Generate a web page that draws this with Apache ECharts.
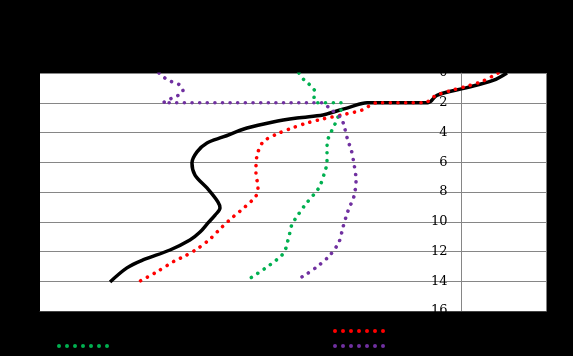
<!DOCTYPE html>
<html>
<head>
<meta charset="utf-8">
<script src="https://cdn.jsdelivr.net/npm/echarts@6/dist/echarts.min.js"></script>
<style>html,body{margin:0;padding:0;background:#000;}#c{width:573px;height:356px;}</style>
</head>
<body>
<div id="c"></div>
<script>
// y-axis tick labels (depth)
const depthTicks = [0, 2, 4, 6, 8, 10, 12, 14, 16];
const seriesNames = ['Series 1', 'Series 2', 'Series 3', 'Series 4'];

// [value, depth]
const blackSeries = [
  [27.66,0],[26.83,0.5],[25.23,1.0],[23.51,1.5],[22.98,2.0],[19.37,2.0],[18.36,2.29],[17.18,2.69],
  [16.76,2.82],[15.22,3.03],[13.80,3.29],[12.26,3.7],[10.84,4.3],[9.89,4.7],[9.30,5.3],[9.00,6.05],
  [9.18,6.86],[9.89,7.73],[10.54,8.67],[10.66,9.08],[10.37,9.55],[9.95,10.08],[9.48,10.69],
  [8.88,11.23],[7.70,11.9],[6.10,12.57],[5.15,13.1],[4.15,14.05]
];
const redSeries = [
  [27.13,0],[26.24,0.54],[25.35,0.87],[24.46,1.14],[23.51,1.48],[23.22,1.68],[22.80,2.0],[19.96,2.0],
  [19.07,2.49],[18.12,2.76],[16.76,3.09],[15.81,3.36],[14.93,3.7],[14.04,4.1],[13.21,4.64],
  [12.85,5.58],[12.79,6.66],[12.91,7.73],[12.79,8.27],[12.14,9.0],[11.43,9.68],[10.72,10.42],
  [10.07,11.16],[9.30,11.83],[8.47,12.37],[7.96,12.64],[6.80,13.45],[5.90,14.0]
];
const greenSeries = [
  [15.34,0],[15.64,0.47],[15.99,0.81],[16.29,1.28],[16.23,1.68],[16.41,2.0],[17.83,2.0],[17.83,2.49],
  [17.65,2.96],[17.47,3.43],[17.24,3.97],[17.06,4.44],[17.00,4.97],[17.00,6.05],[16.88,6.59],
  [16.58,7.6],[16.29,8.07],[15.70,8.87],[15.16,9.75],[14.93,10.15],[14.81,10.69],[14.69,11.23],
  [14.57,11.76],[14.33,12.24],[13.62,12.9],[12.85,13.5],[12.44,13.8]
];
const purpleSeries = [
  [7.05,0],[7.40,0.34],[7.82,0.6],[8.29,0.81],[8.47,1.21],[8.11,1.55],[7.70,1.75],[7.29,2.0],
  [16.76,2.0],[17.12,2.35],[17.83,3.03],[18.01,3.56],[18.24,4.57],[18.42,5.1],[18.60,6.12],
  [18.72,7.19],[18.60,8.27],[18.24,9.28],[17.95,10.35],[17.71,11.36],[17.18,12.24],[16.47,12.97],
  [15.70,13.58],[15.28,13.85]
];

// legend icon: seven round dots
let dotPath = 'path://';
for (let i = 0; i < 7; i++) {
  const cx = 2 + i * 8;
  dotPath += 'M' + (cx - 2) + ',2a2,2 0 1,0 4,0a2,2 0 1,0 -4,0z';
}

const DOT = [0.01, 7.6];
function dotted(name, color, data) {
  return {
    name: name, type: 'line', data: data, smooth: 0.3, symbol: 'none',
    lineStyle: { color: color, width: 3.6, type: DOT, cap: 'round' },
    itemStyle: { color: color }
  };
}
function leg(name, left, top) {
  return {
    data: [{ name: name, icon: dotPath }], left: left, top: top, itemWidth: 52, itemHeight: 4,
    zlevel: 2, z: 200,
    textStyle: { color: '#000', fontSize: 10 }
  };
}

const chart = echarts.init(document.getElementById('c'));
chart.setOption({
  backgroundColor: '#000',
  animation: false,
  grid: { left: 40, right: 26.5, top: 73, bottom: 45, show: true, backgroundColor: '#fff', borderWidth: 0 },
  xAxis: {
    type: 'value', min: 0, max: 30,
    axisLine: { show: true, onZero: false, lineStyle: { color: '#868686', width: 1 } },
    axisTick: { show: false }, axisLabel: { show: false }, splitLine: { show: false }
  },
  yAxis: {
    type: 'value', inverse: true, min: depthTicks[0], max: depthTicks[depthTicks.length - 1], interval: 2,
    position: 'right', offset: -85,
    axisLine: { show: true, onZero: false, lineStyle: { color: '#868686', width: 1 } },
    axisTick: { show: false },
    axisLabel: { inside: true, margin: 14, color: '#000', fontFamily: 'DejaVu Serif', fontSize: 13 },
    splitLine: { show: true, lineStyle: { color: '#868686', width: 1 } }
  },
  legend: [leg(seriesNames[0], 52, 321), leg(seriesNames[1], 328, 321), leg(seriesNames[2], 52, 336), leg(seriesNames[3], 328, 336)],
  graphic: {
    zlevel: 1, z: 100,
    elements: [
      { type: 'rect', zlevel: 1, z: 100, shape: { x: 0, y: 0, width: 573, height: 72.5 }, style: { fill: '#000' } },
      { type: 'rect', zlevel: 1, z: 100, shape: { x: 0, y: 311.6, width: 573, height: 45 }, style: { fill: '#000' } }
    ]
  },
  series: [
    { name: seriesNames[0], type: 'line', data: blackSeries, smooth: 0.35, symbol: 'none',
      lineStyle: { color: '#000', width: 3.5 }, itemStyle: { color: '#000' } },
    dotted(seriesNames[1], '#ff0000', redSeries),
    dotted(seriesNames[2], '#00b050', greenSeries),
    dotted(seriesNames[3], '#7030a0', purpleSeries)
  ]
});
</script>
</body>
</html>
